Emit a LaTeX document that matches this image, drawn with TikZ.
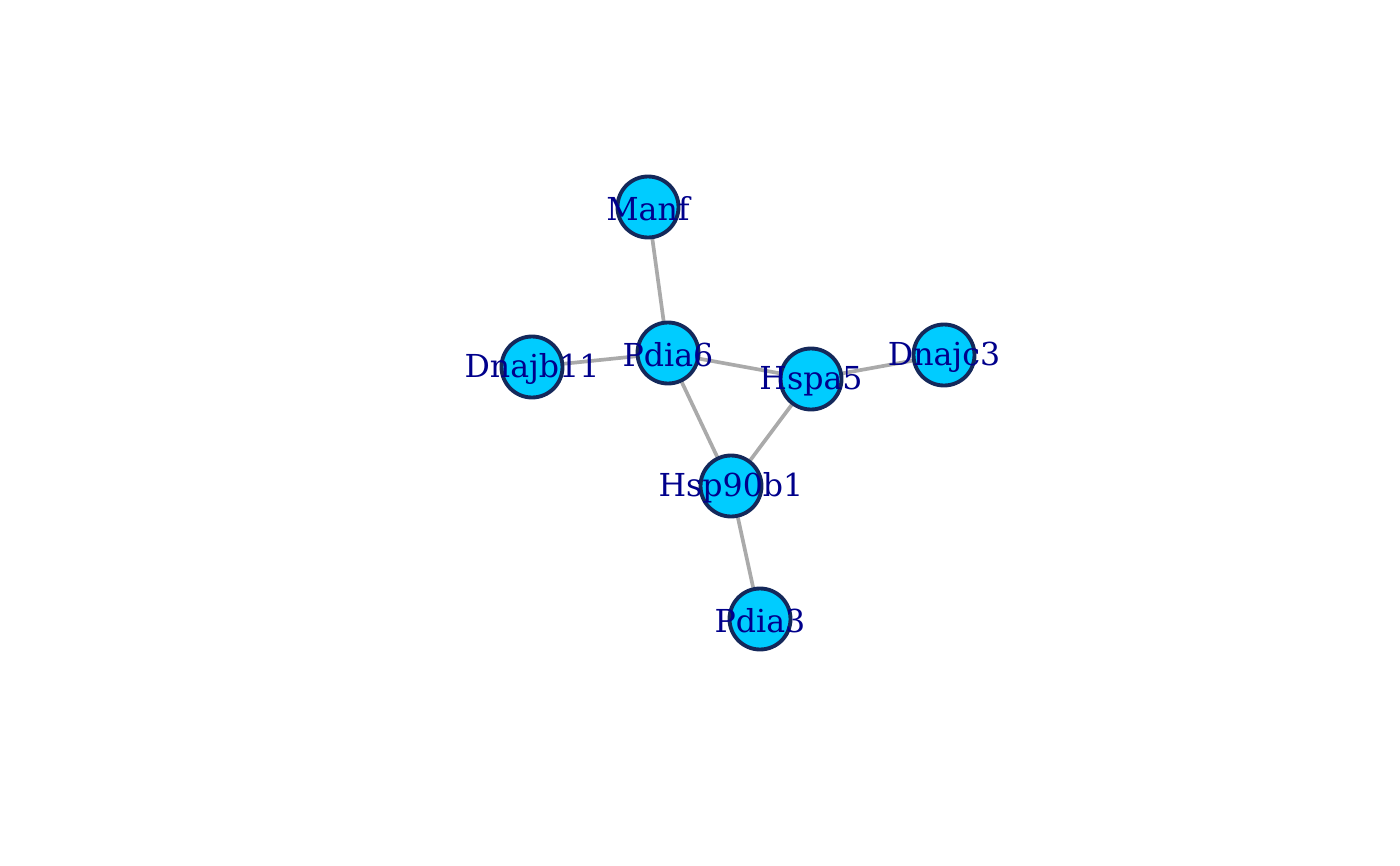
\documentclass[tikz,border=0pt]{standalone}
\usepackage{fontspec}
\setmainfont{DejaVu Serif}
\usetikzlibrary{backgrounds}

\definecolor{vfill}{HTML}{00CCFF}
\definecolor{vline}{HTML}{14285A}
\definecolor{vtext}{HTML}{00008B}
\definecolor{elink}{HTML}{AAAAAA}

\tikzset{
  vert/.style={circle, fill=vfill, draw=vline, line width=1.1pt,
    minimum size=6.1mm, inner sep=0pt,
    label={[vlabel]center:#1}},
  vlabel/.style={text=vtext, font=\fontsize{9}{10}\selectfont, inner sep=0pt, yshift=-0.2mm},
  link/.style={draw=elink, line width=1.05pt}
}

\begin{document}
\begin{tikzpicture}
      \useasboundingbox (0,0) rectangle (14,8.65);

      % Vertices
      \node[vert=Manf]    (manf)    at (6.48, 6.58) {};
      \node[vert=Pdia6]   (pdia6)   at (6.68, 5.12) {};
      \node[vert=Dnajb11] (dnajb11) at (5.32, 4.98) {};
      \node[vert=Hspa5]   (hspa5)   at (8.11, 4.86) {};
      \node[vert=Dnajc3]  (dnajc3)  at (9.44, 5.10) {};
      \node[vert=Hsp90b1] (hsp90b1) at (7.31, 3.79) {};
      \node[vert=Pdia3]   (pdia3)   at (7.60, 2.46) {};

      % Edges, behind the vertices
      \begin{pgfonlayer}{background}
        \draw[link] (manf) -- (pdia6);
        \draw[link] (dnajb11) -- (pdia6);
        \draw[link] (pdia6) -- (hspa5);
        \draw[link] (pdia6) -- (hsp90b1);
        \draw[link] (hspa5) -- (hsp90b1);
        \draw[link] (hspa5) -- (dnajc3);
        \draw[link] (hsp90b1) -- (pdia3);
      \end{pgfonlayer}

  \end{tikzpicture}
\end{document}
